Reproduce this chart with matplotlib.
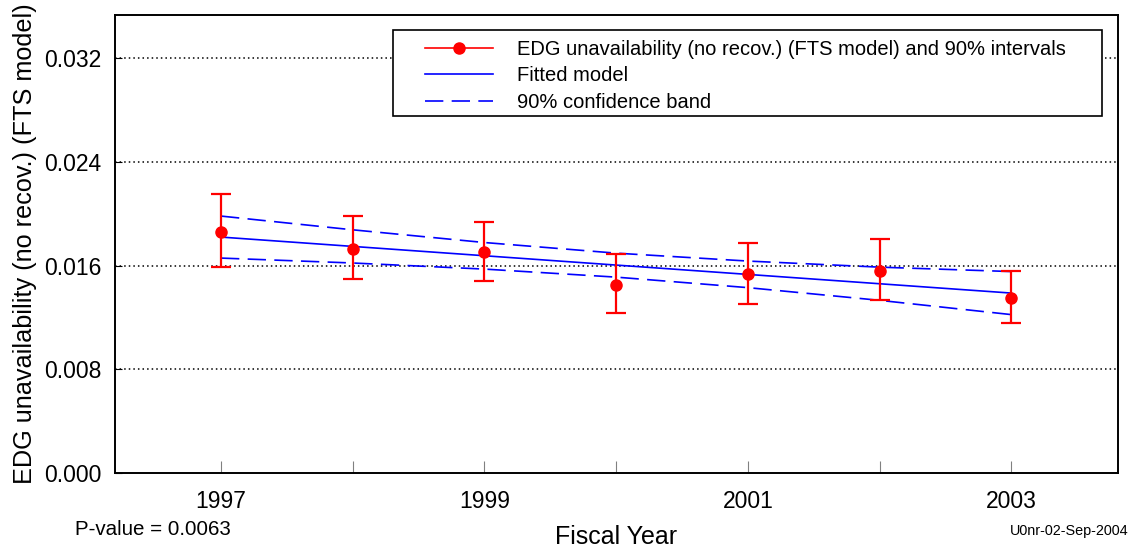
import matplotlib
matplotlib.use("Agg")
import matplotlib.pyplot as plt
from matplotlib.lines import Line2D
from matplotlib.patches import Rectangle

plt.rcParams['font.family'] = ['Liberation Sans', 'DejaVu Sans']

# data
years = [1997, 1998, 1999, 2000, 2001, 2002, 2003]
point_est = [0.01858, 0.01730, 0.01704, 0.01450, 0.01532, 0.01560, 0.01349]
upper_int = [0.02151, 0.01984, 0.01935, 0.01686, 0.01771, 0.01802, 0.01555]
lower_int = [0.01588, 0.01494, 0.01480, 0.01231, 0.01305, 0.01334, 0.01157]
fitted = [0.01820, 0.01748, 0.01676, 0.01604, 0.01532, 0.01460, 0.01388]
band_upper = [0.01982, 0.01876, 0.01778, 0.01696, 0.01635, 0.01588, 0.01554]
band_lower = [0.01658, 0.01620, 0.01573, 0.01511, 0.01430, 0.01332, 0.01222]
ytick_vals = [0.000, 0.008, 0.016, 0.024, 0.032]
xtick_labels = ['1997', '', '1999', '', '2001', '', '2003']

fig = plt.figure(figsize=(11.35, 5.52), dpi=100)
ax = fig.add_axes([0.1013, 0.1431, 0.8837, 0.8297])

# gridlines
for v in ytick_vals[1:]:
    ax.axhline(v, color='black', linestyle=(0, (1, 2)), linewidth=1.1, zorder=1)

# error bars
err_lo = [p - l for p, l in zip(point_est, lower_int)]
err_hi = [u - p for p, u in zip(point_est, upper_int)]
ax.errorbar(years, point_est, yerr=[err_lo, err_hi], fmt='o', color='red',
            markersize=8, elinewidth=1.6, capsize=7, capthick=1.6, zorder=4)

ax.plot(years, fitted, color='blue', linewidth=1.2, zorder=3)
ax.plot(years, band_upper, color='blue', linewidth=1.2, dashes=(11, 5), zorder=3)
ax.plot(years, band_lower, color='blue', linewidth=1.2, dashes=(11, 5), zorder=3)

ax.set_xlim(1996.195, 2003.81)
ax.set_ylim(0, 0.03533)
ax.set_xticks(years)
ax.set_xticklabels(xtick_labels, fontsize=16.5)
ax.set_yticks(ytick_vals)
ax.set_yticklabels(['%.3f' % v for v in ytick_vals], fontsize=16.5)
ax.tick_params(axis='x', direction='in', length=9, color='gray', pad=12)
ax.tick_params(axis='y', direction='in', length=5, pad=10)
for s in ax.spines.values():
    s.set_linewidth(1.4)

ax.set_xlabel('Fiscal Year', fontsize=18, labelpad=9)
ax.set_ylabel('EDG unavailability (no recov.) (FTS model)', fontsize=18.2, labelpad=5)

# legend box drawn separately so the inner padding matches
ax.add_patch(Rectangle((0.2772, 0.7795), 0.7068, 0.1877, transform=ax.transAxes,
                       facecolor='white', edgecolor='black', linewidth=1.2, zorder=5))
handles = [
    Line2D([], [], color='red', marker='o', markersize=8, linewidth=1.2),
    Line2D([], [], color='blue', linewidth=1.2),
    Line2D([], [], color='blue', linewidth=1.2, dashes=(11, 5)),
]
labels = ['EDG unavailability (no recov.) (FTS model) and 90% intervals',
          'Fitted model', '90% confidence band']
leg = ax.legend(handles, labels, loc='upper left', bbox_to_anchor=(0.309, 0.946),
                fontsize=14.5, frameon=False, handlelength=3.4, handletextpad=1.15,
                labelspacing=0.38, borderpad=0, borderaxespad=0)
leg.set_zorder(6)

fig.text(0.066, 0.031, 'P-value = 0.0063', fontsize=14.8)
fig.text(0.994, 0.03, 'U0nr-02-Sep-2004', fontsize=10.4, ha='right')

fig.savefig('out.png', dpi=100)
